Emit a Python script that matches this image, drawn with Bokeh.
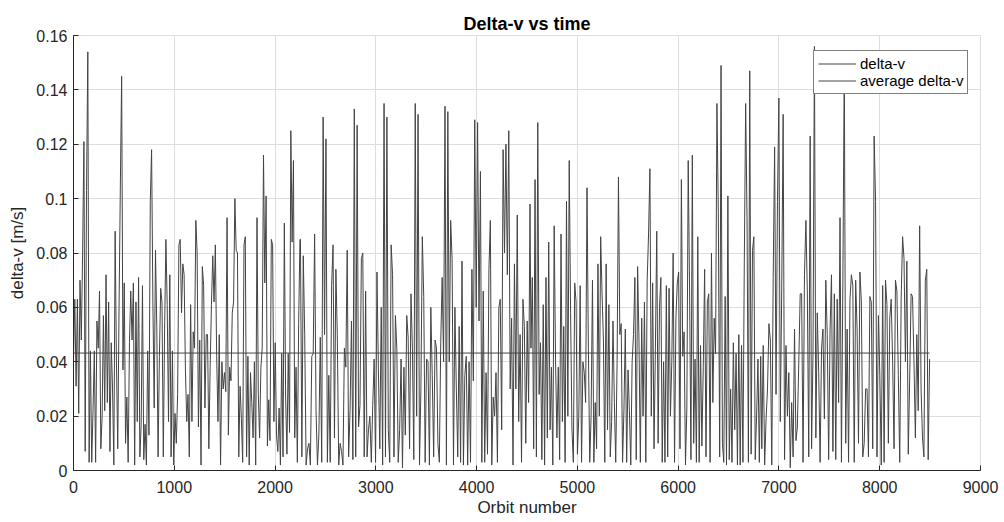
import numpy as np
from bokeh.plotting import figure
from bokeh.models import (ColumnDataSource, Range1d, FixedTicker, CustomJSTickFormatter,
                          Legend, LegendItem)
from bokeh.embed import file_html
from bokeh.resources import INLINE

# ---- data (orbit blocks, values in m/s) ----
block_a_orbits = [0, 2247]
block_a = [0.041, 0.063, 0.031, 0.063, 0.021, 0.07, 0.048, 0.08, 0.121, 0.007, 0.103, 0.154, 0.003, 0.044,
           0.003, 0.022, 0.044, 0.003, 0.055, 0.045, 0.066, 0.008, 0.02, 0.057, 0.022, 0.072, 0.025, 0.062,
           0.007, 0.047, 0.03, 0.002, 0.088, 0.04, 0.008, 0.06, 0.105, 0.145, 0.037, 0.069, 0.01, 0.027,
           0.003, 0.047, 0.066, 0.048, 0.069, 0.002, 0.062, 0.018, 0.071, 0.005, 0.017, 0.068, 0.004, 0.017,
           0.002, 0.044, 0.013, 0.099, 0.118, 0.062, 0.023, 0.081, 0.053, 0.005, 0.042, 0.067, 0.062, 0.005,
           0.052, 0.085, 0.061, 0.018, 0.072, 0.005, 0.044, 0.002, 0.021, 0.01, 0.028, 0.083, 0.085, 0.058,
           0.076, 0.072, 0.037, 0.018, 0.028, 0.005, 0.061, 0.018, 0.051, 0.045, 0.092, 0.08, 0.016, 0.048,
           0.002, 0.075, 0.068, 0.023, 0.05, 0.05, 0.008, 0.038, 0.061, 0.079, 0.062, 0.083, 0.042, 0.018,
           0.05, 0.002, 0.04, 0.03, 0.036, 0.029, 0.093, 0.013, 0.038, 0.033, 0.058, 0.062, 0.1, 0.081,
           0.08, 0.005, 0.031, 0.019, 0.003, 0.083, 0.086, 0.005, 0.042, 0.002, 0.036, 0.025, 0.012, 0.04,
           0.002, 0.093, 0.028, 0.012, 0.038, 0.045, 0.116, 0.069, 0.101, 0.009, 0.026, 0.011, 0.085, 0.083,
           0.018, 0.047, 0.013, 0.007, 0.023, 0.002, 0.043, 0.005, 0.091, 0.027, 0.006, 0.043, 0.014, 0.125,
           0.084, 0.114, 0.012, 0.038, 0.003, 0.054, 0.085]

block_b_orbits = [2252, 4530]
block_b = [0.085, 0.005, 0.079, 0.05, 0.002, 0.008, 0.01, 0.002, 0.042, 0.043, 0.087, 0.022, 0.002, 0.013,
           0.049, 0.003, 0.13, 0.05, 0.122, 0.003, 0.035, 0.003, 0.068, 0.083, 0.012, 0.074, 0.05, 0.002,
           0.01, 0.007, 0.002, 0.045, 0.038, 0.081, 0.005, 0.022, 0.055, 0.004, 0.133, 0.005, 0.127, 0.016,
           0.024, 0.078, 0.08, 0.005, 0.066, 0.005, 0.015, 0.02, 0.003, 0.024, 0.041, 0.003, 0.073, 0.037,
           0.008, 0.06, 0.002, 0.135, 0.005, 0.13, 0.015, 0.003, 0.083, 0.072, 0.005, 0.057, 0.045, 0.003,
           0.015, 0.041, 0.001, 0.038, 0.013, 0.057, 0.049, 0.008, 0.065, 0.045, 0.004, 0.135, 0.02, 0.131,
           0.002, 0.03, 0.086, 0.064, 0.003, 0.041, 0.04, 0.002, 0.06, 0.035, 0.005, 0.048, 0.045, 0.01,
           0.003, 0.047, 0.071, 0.04, 0.134, 0.002, 0.132, 0.04, 0.092, 0.078, 0.002, 0.06, 0.03, 0.005,
           0.053, 0.003, 0.077, 0.002, 0.035, 0.042, 0.002, 0.04, 0.003, 0.074, 0.033, 0.129, 0.06, 0.128,
           0.055, 0.11, 0.003, 0.066, 0.003, 0.036, 0.006, 0.074, 0.092, 0.002, 0.027, 0.02, 0.036, 0.003,
           0.06, 0.063, 0.015, 0.118, 0.08, 0.12, 0.072, 0.125, 0.03, 0.056, 0.002, 0.076, 0.03, 0.094,
           0.018, 0.05, 0.003, 0.063, 0.053, 0.01, 0.055, 0.025, 0.098]

block_c_orbits = [4539, 6819]
block_c = [0.045, 0.071, 0.008, 0.107, 0.005, 0.128, 0.028, 0.047, 0.004, 0.061, 0.002, 0.071, 0.012, 0.084,
           0.015, 0.038, 0.002, 0.09, 0.04, 0.012, 0.038, 0.004, 0.087, 0.018, 0.053, 0.003, 0.099, 0.02,
           0.114, 0.058, 0.015, 0.003, 0.069, 0.062, 0.006, 0.02, 0.068, 0.003, 0.04, 0.036, 0.025, 0.104,
           0.045, 0.003, 0.02, 0.07, 0.003, 0.025, 0.008, 0.076, 0.02, 0.086, 0.065, 0.048, 0.003, 0.076,
           0.015, 0.061, 0.005, 0.018, 0.055, 0.025, 0.003, 0.04, 0.108, 0.05, 0.054, 0.003, 0.022, 0.052,
           0.003, 0.037, 0.022, 0.002, 0.04, 0.05, 0.071, 0.004, 0.075, 0.048, 0.003, 0.056, 0.02, 0.062,
           0.003, 0.07, 0.087, 0.111, 0.02, 0.069, 0.008, 0.045, 0.088, 0.01, 0.06, 0.071, 0.003, 0.04,
           0.003, 0.068, 0.005, 0.067, 0.02, 0.04, 0.08, 0.003, 0.056, 0.069, 0.073, 0.008, 0.107, 0.042,
           0.051, 0.002, 0.023, 0.114, 0.066, 0.004, 0.116, 0.01, 0.041, 0.003, 0.086, 0.003, 0.046, 0.009,
           0.038, 0.074, 0.005, 0.062, 0.065, 0.003, 0.08, 0.025, 0.056, 0.043, 0.135, 0.095, 0.005, 0.149,
           0.01, 0.003, 0.064, 0.002, 0.101, 0.004, 0.03, 0.003, 0.047, 0.015, 0.043, 0.002, 0.05, 0.002,
           0.046, 0.003, 0.076, 0.135, 0.093, 0.003, 0.147, 0.006, 0.081, 0.086, 0.004, 0.02, 0.041, 0.003,
           0.042]

block_d_orbits = [6830, 8495]
block_d = [0.008, 0.046, 0.002, 0.019, 0.03, 0.054, 0.048, 0.002, 0.071, 0.119, 0.028, 0.099, 0.137, 0.018,
           0.066, 0.131, 0.004, 0.046, 0.02, 0.036, 0.001, 0.025, 0.005, 0.052, 0.011, 0.016, 0.04, 0.065,
           0.065, 0.003, 0.072, 0.092, 0.066, 0.005, 0.123, 0.008, 0.043, 0.156, 0.012, 0.058, 0.036, 0.003,
           0.045, 0.052, 0.019, 0.07, 0.05, 0.004, 0.052, 0.072, 0.007, 0.065, 0.004, 0.063, 0.025, 0.093,
           0.003, 0.07, 0.15, 0.01, 0.052, 0.003, 0.063, 0.072, 0.068, 0.003, 0.07, 0.052, 0.01, 0.073,
           0.062, 0.005, 0.01, 0.03, 0.03, 0.005, 0.064, 0.062, 0.008, 0.123, 0.099, 0.005, 0.057, 0.035,
           0.002, 0.068, 0.003, 0.07, 0.061, 0.01, 0.056, 0.063, 0.04, 0.008, 0.07, 0.066, 0.035, 0.003,
           0.063, 0.086, 0.078, 0.04, 0.077, 0.006, 0.034, 0.065, 0.064, 0.04, 0.012, 0.05, 0.022, 0.09,
           0.03, 0.012, 0.005, 0.07, 0.074, 0.004, 0.041]

average_delta_v = 0.0432
x_ticks = [0, 1000, 2000, 3000, 4000, 5000, 6000, 7000, 8000, 9000]
y_ticks = [0, 0.02, 0.04, 0.06, 0.08, 0.10, 0.12, 0.14, 0.16]

# ---- assemble series ----
xs, ys = [], []
for (o0, o1), vals in [(block_a_orbits, block_a), (block_b_orbits, block_b),
                       (block_c_orbits, block_c), (block_d_orbits, block_d)]:
    xs.extend(np.linspace(o0, o1, len(vals)).tolist())
    ys.extend(vals)
src = ColumnDataSource(dict(x=xs, y=ys))
avg_src = ColumnDataSource(dict(x=[xs[0], xs[-1]], y=[average_delta_v, average_delta_v]))

FONT = "Liberation Sans"
DARK = "#262626"
LINE = "#444444"

p = figure(width=1004, height=522, output_backend="svg", toolbar_location=None,
           x_range=Range1d(0, 9000), y_range=Range1d(0, 0.16),
           min_border_left=73, min_border_right=24, min_border_top=35, min_border_bottom=52)
p.title.text = "Delta-v vs time"
p.title.align = "center"
p.title.text_font = FONT
p.title.text_font_size = "18px"
p.title.text_font_style = "bold"
p.title.text_color = "#000000"
p.title.standoff = 4

r1 = p.line("x", "y", source=src, line_color=LINE, line_width=1)
r2 = p.line("x", "y", source=avg_src, line_color=LINE, line_width=1)

p.xaxis.ticker = FixedTicker(ticks=x_ticks)
p.yaxis.ticker = FixedTicker(ticks=y_ticks)
p.yaxis.formatter = CustomJSTickFormatter(code="return tick.toFixed(2).replace(/\\.?0+$/, '');")
p.xaxis.axis_label = "Orbit number"
p.yaxis.axis_label = "delta-v [m/s]"
for ax in (p.xaxis[0], p.yaxis[0]):
    ax.axis_line_color = DARK
    ax.major_tick_line_color = DARK
    ax.major_tick_in = 5
    ax.major_tick_out = 0
    ax.minor_tick_line_color = None
    ax.major_label_text_font = FONT
    ax.major_label_text_font_size = "16px"
    ax.major_label_text_color = DARK
    ax.axis_label_text_font = FONT
    ax.axis_label_text_font_size = "17px"
    ax.axis_label_text_font_style = "normal"
    ax.axis_label_text_color = DARK
p.yaxis.major_label_standoff = 6
p.xaxis.major_label_standoff = 10
p.yaxis.axis_label_standoff = 6
p.xaxis.axis_label_standoff = 2

p.grid.grid_line_color = "#dedede"
p.outline_line_color = "#dedede"
p.background_fill_color = "white"
p.border_fill_color = "white"

legend = Legend(items=[LegendItem(label="delta-v", renderers=[r1]),
                       LegendItem(label="average delta-v", renderers=[r2])],
                location=(740, 376))
legend.border_line_color = "#000000"
legend.border_line_width = 1
legend.padding = 4
legend.spacing = 0
legend.margin = 0
legend.glyph_width = 38
legend.glyph_height = 17
legend.label_height = 17
legend.label_standoff = 4
legend.label_text_font = FONT
legend.label_text_font_size = "15px"
legend.label_text_color = "#000000"
legend.background_fill_alpha = 1
p.add_layout(legend, "center")

open("out.html", "w").write(file_html(p, INLINE))
